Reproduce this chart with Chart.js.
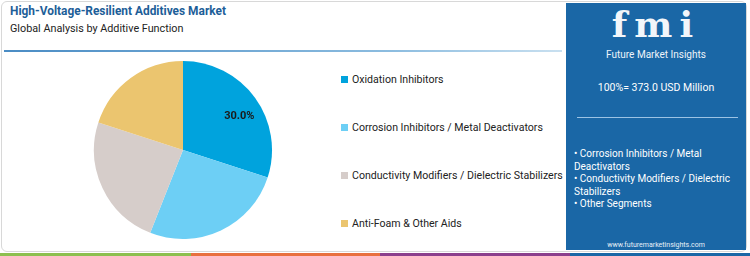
<!DOCTYPE html>
<html><head><meta charset="utf-8">
<script src="https://cdn.jsdelivr.net/npm/chart.js@4"></script>
<style>
html,body{margin:0;padding:0;background:#fff;}
body{width:750px;height:256px;position:relative;overflow:hidden;font-family:Roboto,"Open Sans",sans-serif;}
#frame{position:absolute;left:1px;top:1px;width:746px;height:251px;border:1px solid #d8d8d8;border-radius:6px;box-sizing:border-box;}
#title{position:absolute;left:10px;top:4px;font-size:11.9px;font-weight:700;color:#1d5e98;}
#sub{position:absolute;left:10px;top:22px;font-size:10.8px;color:#222;}
#rule{position:absolute;left:4px;top:50px;width:558px;height:2px;background:linear-gradient(to right,#4a8cc4,#8dbde0 70%,#c9e0f0);}
#chartbox{position:absolute;left:88px;top:55px;width:190px;height:190px;}
#legend{position:absolute;left:341px;top:0;}
.li{position:absolute;white-space:nowrap;font-size:10.6px;color:#222;}
.sw{display:inline-block;width:7px;height:7px;margin-right:4px;vertical-align:0px;}
#panel{position:absolute;left:566px;top:3px;width:180px;height:247px;background:#1a67a6;color:#fff;}
#logo{position:absolute;left:0;width:180px;top:4px;text-align:center;font-family:"DejaVu Serif",serif;font-weight:700;font-size:36px;line-height:34px;height:34px;letter-spacing:7px;color:#f2f6fa;}
#fmi{position:absolute;left:0;width:180px;top:46px;text-align:center;font-size:10px;line-height:12px;color:#eef4fa;}
#total{position:absolute;left:0;width:180px;top:78px;text-align:center;font-size:10.5px;}
#prule{position:absolute;left:11px;top:114px;width:161px;height:1px;background:#9cc3e4;}
#bul{position:absolute;left:8px;top:145px;width:170px;font-size:10px;line-height:12.6px;}
#web{position:absolute;left:0;width:180px;top:238px;text-align:center;font-size:7px;color:#e8f0f8;}
.strip{position:absolute;top:253px;height:3px;}
</style></head><body>
<div id="frame"></div>
<div id="title">High-Voltage-Resilient Additives Market</div>
<div id="sub">Global Analysis by Additive Function</div>
<div id="rule"></div>
<div id="chartbox"><canvas id="c"></canvas></div>
<div id="legend"></div>
<div id="panel">
  <div id="logo">fmi</div>
  <div id="fmi">Future Market Insights</div>
  <div id="total"></div>
  <div id="prule"></div>
  <div id="bul"></div>
  <div id="web">www.futuremarketinsights.com</div>
</div>
<div class="strip" style="left:0;width:191px;background:#8cbf4f"></div>
<div class="strip" style="left:191px;width:189px;background:#e8703f"></div>
<div class="strip" style="left:380px;width:190px;background:#8b3f8c"></div>
<div class="strip" style="left:570px;width:180px;background:#1a67a6"></div>
<script>
const categories = ["Oxidation Inhibitors","Corrosion Inhibitors / Metal Deactivators","Conductivity Modifiers / Dielectric Stabilizers","Anti-Foam & Other Aids"];
const shares = [30.0, 26.0, 24.0, 20.0];
const colors = ["#00a3dd","#6dcff5","#d6cdca","#ebc56f"];
const totalText = "100%= 373.0 USD Million";
const panelBullets = ["Corrosion Inhibitors / Metal Deactivators","Conductivity Modifiers / Dielectric Stabilizers","Other Segments"];
const labeledIndex = [0];

document.getElementById('total').textContent = totalText;
document.getElementById('bul').innerHTML = panelBullets.map(b=>'• '+b).join('<br>');
const legTops = [73,121,169,217];
document.getElementById('legend').innerHTML = categories.map((c,i)=>
  '<div class="li" style="top:'+legTops[i]+'px"><span class="sw" style="background:'+colors[i]+'"></span>'+c.replace('&','&amp;')+'</div>').join('');

const labelPlugin = {
  id:'lbl',
  afterDatasetsDraw(chart){
    const ctx = chart.ctx;
    const meta = chart.getDatasetMeta(0);
    labeledIndex.forEach(i=>{
      const a = meta.data[i];
      const p = a.getProps(['x','y','startAngle','endAngle','outerRadius'],true);
      const mid = (p.startAngle+p.endAngle)/2;
      const r = p.outerRadius*0.74;
      ctx.save();
      ctx.font = '700 11px Roboto, "Open Sans", sans-serif';
      ctx.fillStyle = '#1a1a1a';
      ctx.textAlign='center';ctx.textBaseline='middle';
      ctx.fillText(shares[i].toFixed(1)+'%', p.x+Math.cos(mid)*r+3, p.y+Math.sin(mid)*r+5);
      ctx.restore();
    });
  }
};

new Chart(document.getElementById('c'),{
  type:'pie',
  data:{labels:categories,datasets:[{data:shares,backgroundColor:colors,borderWidth:0}]},
  options:{responsive:true,maintainAspectRatio:false,animation:false,
    layout:{padding:6},
    plugins:{legend:{display:false},tooltip:{enabled:false}}},
  plugins:[labelPlugin]
});
</script>
</body></html>
